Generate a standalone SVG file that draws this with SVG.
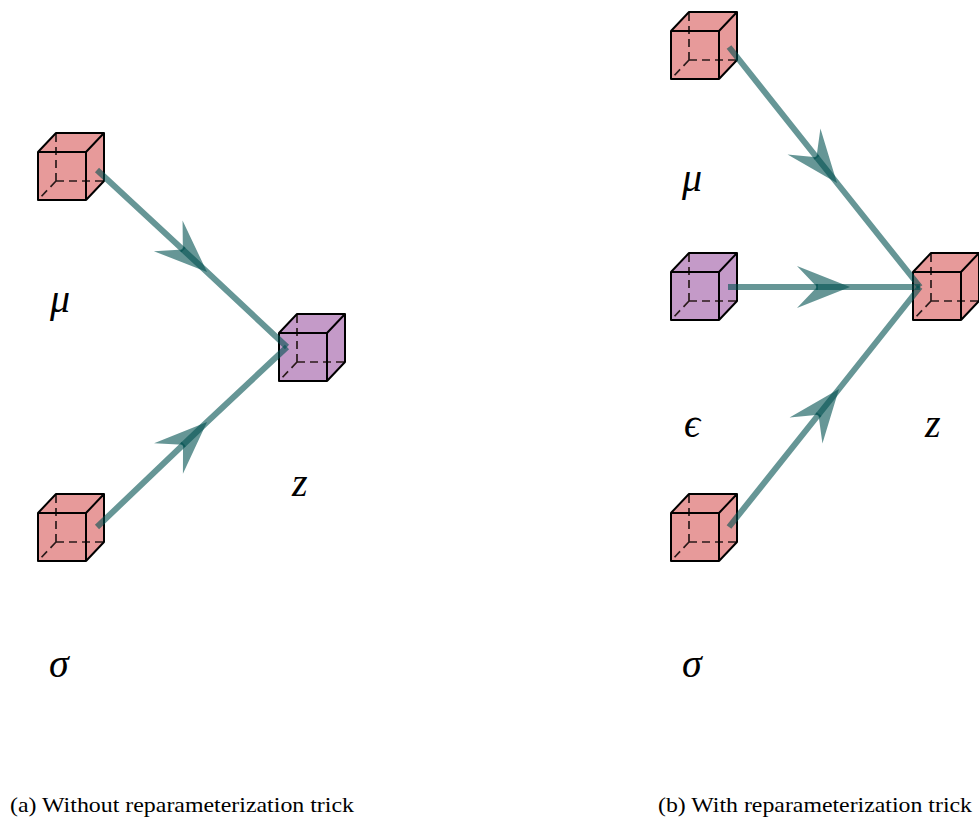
<svg xmlns="http://www.w3.org/2000/svg" xmlns:xlink="http://www.w3.org/1999/xlink" width="979" height="819" viewBox="0 0 979 819">
  <style>
    .edge { fill: none; stroke: #000; stroke-width: 2; stroke-linejoin: round; }
    .hidden { fill: none; stroke: #2a1a1a; stroke-width: 1.7; stroke-dasharray: 8 5; }
    .red { fill: #e79a9a; }
    .purple { fill: #c49ac8; }
    .flow { fill: none; stroke: #005050; stroke-opacity: 0.6; stroke-width: 6; }
    .var { font-family: "Liberation Serif", "DejaVu Serif", serif; font-style: italic; font-size: 40px; fill: #000; }
    .caption { font-family: "Liberation Serif", serif; font-size: 22px; fill: #000; }
  </style>
  <defs>
    <!-- wireframe cube, front face 48x48 at origin, depth offset (18,-19) -->
    <g id="cube">
      <path d="M0,48 L0,0 L18,-19 L66,-19 L66,29 L48,48 Z" stroke="none"/>
      <path class="hidden" d="M18,29 L18,-19 M18,29 L66,29 M18,29 L0,48"/>
      <path class="edge" d="M0,0 H48 V48 H0 Z M0,0 L18,-19 H66 V29 L48,48 M48,0 L66,-19"/>
    </g>
    <!-- stealth-style arrowhead placed at the middle vertex of each flow line -->
    <marker id="head" markerUnits="userSpaceOnUse" orient="auto" overflow="visible" markerWidth="1" markerHeight="1" refX="0" refY="0">
      <path d="M0,0 L-53,-21 L-33,0 L-53,21 Z" fill="#005050" fill-opacity="0.6"/>
      <path d="M-33,-3 V3" stroke="#005050" stroke-opacity="0.6" stroke-width="2"/>
    </marker>
  </defs>

  <!-- (a) without reparameterization -->
  <g id="a-mu"><use xlink:href="#cube" class="red" transform="translate(38,152)"/><text class="var" x="50" y="312">μ</text></g>
  <g id="a-sigma"><use xlink:href="#cube" class="red" transform="translate(38,513)"/><text class="var" x="49" y="677">σ</text></g>
  <g id="a-z"><use xlink:href="#cube" class="purple" transform="translate(279,333)"/><text class="var" x="292" y="496">z</text></g>

  <!-- (b) with reparameterization -->
  <g id="b-mu"><use xlink:href="#cube" class="red" transform="translate(671,31)"/><text class="var" x="682" y="191">μ</text></g>
  <g id="b-eps"><use xlink:href="#cube" class="purple" transform="translate(671,272)"/><text class="var" x="684" y="437">ϵ</text></g>
  <g id="b-sigma"><use xlink:href="#cube" class="red" transform="translate(671,513)"/><text class="var" x="682" y="677">σ</text></g>
  <g id="b-z"><use xlink:href="#cube" class="red" transform="translate(913,272)"/><text class="var" x="925" y="437">z</text></g>

  <g id="connectors">
    <polyline class="flow" marker-mid="url(#head)" points="97,170 207,272 287,347"/>
    <polyline class="flow" marker-mid="url(#head)" points="97,527 207,422 287,347"/>
    <polyline class="flow" marker-mid="url(#head)" points="729,47 837,183 920,287"/>
    <polyline class="flow" marker-mid="url(#head)" points="728,287 850,287 920,287"/>
    <polyline class="flow" marker-mid="url(#head)" points="729,527 839,389 920,287"/>
  </g>

  <text class="caption" x="10" y="812" textLength="344" lengthAdjust="spacingAndGlyphs">(a) Without reparameterization trick</text>
  <text class="caption" x="658" y="812" textLength="314" lengthAdjust="spacingAndGlyphs">(b) With reparameterization trick</text>
</svg>
